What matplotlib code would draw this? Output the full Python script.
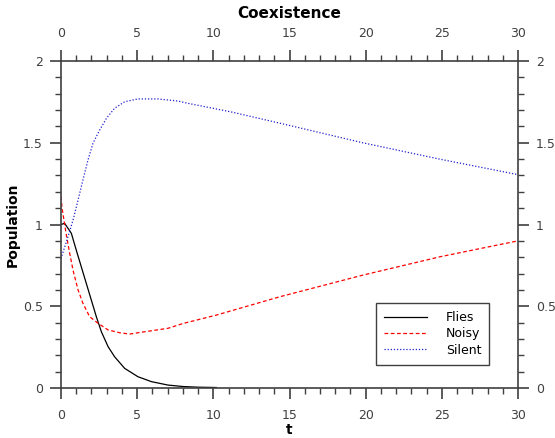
import matplotlib
matplotlib.use('Agg')
import matplotlib.pyplot as plt
from matplotlib.ticker import MultipleLocator

# Values
t_flies = [0, 0.24, 0.68, 1.0, 1.33, 1.66, 1.99, 2.32, 2.65, 3.09, 3.52, 4.18, 5.05, 5.93, 7.02, 8.0, 9.0, 10.2]
flies = [1.0, 1.007, 0.946, 0.844, 0.742, 0.640, 0.538, 0.436, 0.344, 0.253, 0.191, 0.120, 0.069, 0.039,
         0.018, 0.009, 0.005, 0.003]

t_noisy = [0, 0.07, 0.35, 0.57, 0.79, 1.12, 1.44, 1.88, 2.43, 3.09, 3.85, 4.51, 5.49, 7.02, 8.03, 10.2,
           14.4, 19.8, 24.9, 30]
noisy = [1.17, 1.10, 0.936, 0.824, 0.72, 0.60, 0.518, 0.436, 0.396, 0.355, 0.338, 0.330, 0.344, 0.365,
         0.395, 0.446, 0.559, 0.69, 0.803, 0.90]

t_silent = [0, 0.07, 0.46, 0.79, 1.12, 1.44, 1.77, 2.10, 2.54, 2.98, 3.52, 4.18, 5.05, 6.37, 7.68, 8.34,
            11.1, 14.4, 19.8, 24.9, 30]
silent = [0.79, 0.813, 0.925, 1.027, 1.15, 1.272, 1.394, 1.497, 1.578, 1.649, 1.711, 1.751, 1.768, 1.768,
          1.755, 1.741, 1.69, 1.619, 1.50, 1.399, 1.305]

fig = plt.figure(figsize=(5.55, 4.38), dpi=100)
ax = fig.add_axes([61 / 555, 50 / 438, 457 / 555, 327 / 438])

# Plot the three populations
ax.plot(t_flies, flies, color='black', linewidth=0.9, label='Flies')
ax.plot(t_noisy, noisy, color='red', linewidth=0.9, dashes=(3, 2), label='Noisy')
ax.plot(t_silent, silent, color='#2020d0', linewidth=0.9, linestyle=(0, (1, 1.5)), label='Silent')

ax.set_xlim(0, 30)
ax.set_ylim(0, 2)

# Gnuplot-like ticks on every side, pointing outward
ax.xaxis.set_major_locator(MultipleLocator(5))
ax.xaxis.set_minor_locator(MultipleLocator(1))
ax.yaxis.set_major_locator(MultipleLocator(0.5))
ax.yaxis.set_minor_locator(MultipleLocator(0.1))
ax.yaxis.set_major_formatter(plt.FuncFormatter(lambda v, p: ('%g' % v)))
ax.tick_params(which='both', direction='out', top=True, right=True,
               labeltop=True, labelright=True, colors='#404040', labelsize=9)
ax.tick_params(which='major', length=8, width=1.2, pad=5)
ax.tick_params(axis='x', which='major', pad=7)
ax.tick_params(which='minor', length=4, width=1.0)
for sp in ax.spines.values():
    sp.set_color('#404040')
    sp.set_linewidth(1.2)

ax.set_title('Coexistence', fontsize=11, fontweight='bold', pad=31)
ax.set_xlabel('t', fontsize=10, fontweight='bold', labelpad=1)
ax.set_ylabel('Population', fontsize=10, fontweight='bold', labelpad=2)

leg = ax.legend(loc='lower right', bbox_to_anchor=(0.951, 0.052), fontsize=9,
                fancybox=False, edgecolor='#404040', framealpha=1,
                handlelength=3.4, borderpad=0.65, labelspacing=0.25, handletextpad=1.5)
leg.get_frame().set_linewidth(1.0)

fig.savefig('out.png', dpi=100)
